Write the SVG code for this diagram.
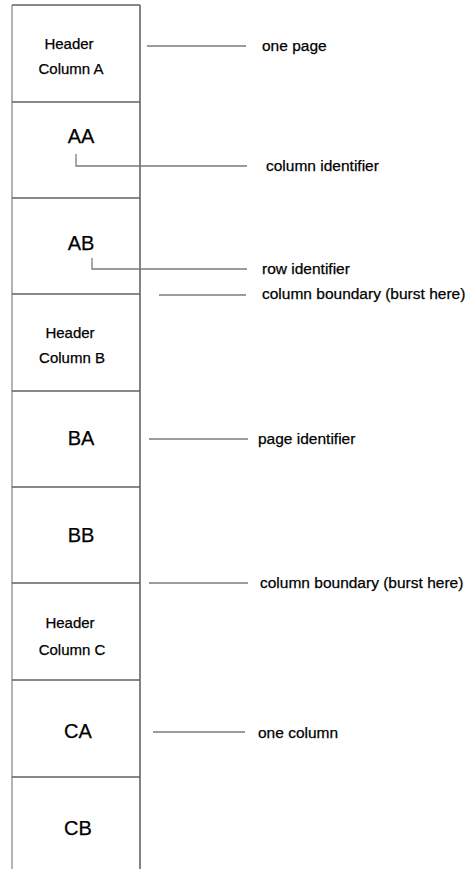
<svg xmlns="http://www.w3.org/2000/svg" width="474" height="869" viewBox="0 0 474 869">
<style>
.bg{fill:#fff}
.lborder{stroke:#8c8c8c;stroke-width:1.3;fill:none}
.rborder{stroke:#404040;stroke-width:1.3;fill:none}
.div{stroke:#606060;stroke-width:1.3;fill:none}
.conn{stroke:#7a7a7a;stroke-width:1.3;fill:none}
text{font-family:"Liberation Sans",Arial,sans-serif;fill:#000;stroke:#000;stroke-width:0.25}
.hdr{font-size:15px;text-anchor:middle}
.id{font-size:20px;text-anchor:middle}
.lbl{font-size:15.5px}
</style>
<rect class="bg" x="0" y="0" width="474" height="869"/>
<g id="strip">
<line class="lborder" x1="12" y1="5" x2="12" y2="869"/>
<line class="rborder" x1="140" y1="5" x2="140" y2="869"/>
<line class="div" x1="12" y1="5" x2="140" y2="5"/>
</g>
<g id="header-a"><line class="div" x1="12" y1="102" x2="140" y2="102"/><text class="hdr" x="69" y="49">Header</text><text class="hdr" x="71" y="74">Column A</text></g>
<g id="aa"><line class="div" x1="12" y1="198" x2="140" y2="198"/><text class="id" x="81" y="143">AA</text></g>
<g id="ab"><line class="div" x1="12" y1="294" x2="140" y2="294"/><text class="id" x="81" y="250">AB</text></g>
<g id="header-b"><line class="div" x1="12" y1="391" x2="140" y2="391"/><text class="hdr" x="70" y="338">Header</text><text class="hdr" x="72" y="363">Column B</text></g>
<g id="ba"><line class="div" x1="12" y1="487" x2="140" y2="487"/><text class="id" x="81" y="445">BA</text></g>
<g id="bb"><line class="div" x1="12" y1="583" x2="140" y2="583"/><text class="id" x="81" y="542">BB</text></g>
<g id="header-c"><line class="div" x1="12" y1="680" x2="140" y2="680"/><text class="hdr" x="70" y="628">Header</text><text class="hdr" x="72" y="655">Column C</text></g>
<g id="ca"><line class="div" x1="12" y1="777" x2="140" y2="777"/><text class="id" x="78" y="738">CA</text></g>
<g id="cb"><text class="id" x="78" y="835">CB</text></g>
<g id="connectors">
<line class="conn" x1="147" y1="46" x2="246" y2="46"/>
<polyline class="conn" points="76,154 76,166 247,166"/>
<polyline class="conn" points="92,258 92,269 247,269"/>
<line class="conn" x1="159" y1="295" x2="246" y2="295"/>
<line class="conn" x1="149" y1="439" x2="248" y2="439"/>
<line class="conn" x1="149" y1="583" x2="248" y2="583"/>
<line class="conn" x1="153" y1="732" x2="245" y2="732"/>
</g>
<g id="labels">
<text class="lbl" x="262" y="51">one page</text>
<text class="lbl" x="266" y="171">column identifier</text>
<text class="lbl" x="262" y="274">row identifier</text>
<text class="lbl" x="262" y="299">column boundary (burst here)</text>
<text class="lbl" x="258" y="444">page identifier</text>
<text class="lbl" x="260" y="588">column boundary (burst here)</text>
<text class="lbl" x="258" y="738">one column</text>
</g>
</svg>
